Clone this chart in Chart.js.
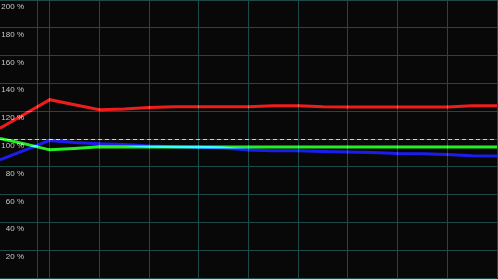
<!DOCTYPE html>
<html>
<head>
<meta charset="utf-8">
<script src="https://cdn.jsdelivr.net/npm/chart.js@4/dist/chart.umd.min.js"></script>
<style>
  html, body { margin: 0; padding: 0; background: #080808; overflow: hidden; }
  canvas { display: block; }
</style>
</head>
<body>
<canvas id="perfChart" width="498" height="279"></canvas>
<script>
// positions along the time axis (grid units)
var xPositions = [0, 0.5, 1, 1.5, 2, 2.5, 3, 3.5, 4, 4.5, 5, 5.5, 6, 6.5, 7, 7.5, 8, 8.5, 9, 9.5, 10];

// series values in percent
var redValues   = [107.8, 118, 128.3, 124.6, 121, 121.6, 122.7, 123.2, 123.2, 123.2, 123.2, 124, 124, 123.2, 123, 123, 123, 123, 123, 124, 124];
var greenValues = [100.3, 96.5, 92.2, 93.2, 94.4, 94.3, 94.2, 94.2, 94.2, 94.2, 94.2, 94.2, 94.2, 94.2, 94.2, 94.2, 94.2, 94.2, 94.2, 94.2, 94.2];
var blueValues  = [85, 92, 99, 97.5, 96.5, 96, 95, 94.5, 94, 93.5, 92, 91.6, 91.6, 91, 90.6, 90.2, 89.6, 89.4, 88.8, 88, 87.7];

// axis
var yTicks = [200, 180, 160, 140, 120, 100, 80, 60, 40, 20];
var xGrid = [0.745, 1, 2, 3, 4, 5, 6, 7, 8, 9, 10];
var refValue = 100;

function toPoints(vals) {
    return vals.map(function(v, i) { return { x: xPositions[i], y: v }; });
}

// background, labels under the lines, additive line blending
var scopePlugin = {
    id: 'scope',
    beforeDraw: function(chart) {
        var ctx = chart.ctx;
        ctx.save();
        ctx.fillStyle = '#080808';
        ctx.fillRect(0, 0, chart.width, chart.height);
        ctx.restore();
    },
    beforeDatasetsDraw: function(chart) {
        var ctx = chart.ctx;
        var yScale = chart.scales.y;
        ctx.save();
        ctx.font = '8px "Liberation Sans", Arial, sans-serif';
        ctx.fillStyle = '#c8c8c8';
        ctx.textAlign = 'right';
        ctx.textBaseline = 'alphabetic';
        yTicks.forEach(function(t) {
            var py = Math.round(yScale.getPixelForValue(t));
            ctx.fillText(t + ' %', 24, py + 9);
        });
        ctx.restore();

        // dashed reference line
        var ry = Math.round(yScale.getPixelForValue(refValue)) + 0.5;
        ctx.save();
        ctx.strokeStyle = '#d0d0d0';
        ctx.lineWidth = 1;
        ctx.setLineDash([4, 3]);
        ctx.beginPath();
        ctx.moveTo(chart.chartArea.left, ry);
        ctx.lineTo(chart.chartArea.right, ry);
        ctx.stroke();
        ctx.restore();

        ctx.save();
        ctx.globalCompositeOperation = 'lighter';
    },
    afterDatasetsDraw: function(chart) {
        chart.ctx.restore();
    }
};

var ctx = document.getElementById('perfChart').getContext('2d');
new Chart(ctx, {
    type: 'line',
    data: {
        datasets: [
            { data: toPoints(redValues), borderColor: '#e81414', borderWidth: 3 },
            { data: toPoints(greenValues), borderColor: '#1ee61e', borderWidth: 3 },
            { data: toPoints(blueValues), borderColor: '#1414e6', borderWidth: 3 }
        ]
    },
    options: {
        responsive: false,
        animation: false,
        layout: { padding: { left: 0, top: 0, right: 1, bottom: 1 } },
        elements: {
            point: { radius: 0 },
            line: { tension: 0, fill: false, borderCapStyle: 'butt' }
        },
        plugins: {
            legend: { display: false },
            tooltip: { enabled: false }
        },
        scales: {
            x: {
                type: 'linear',
                min: 0,
                max: 10,
                ticks: { display: false },
                grid: { color: '#1c4a47', drawTicks: false },
                border: { display: false },
                afterBuildTicks: function(scale) {
                    scale.ticks = xGrid.map(function(v) { return { value: v }; });
                }
            },
            y: {
                min: 0,
                max: 200,
                ticks: { display: false, stepSize: 20 },
                grid: { color: '#1c4a47', drawTicks: false },
                border: { display: false }
            }
        }
    },
    plugins: [scopePlugin]
});
</script>
</body>
</html>
